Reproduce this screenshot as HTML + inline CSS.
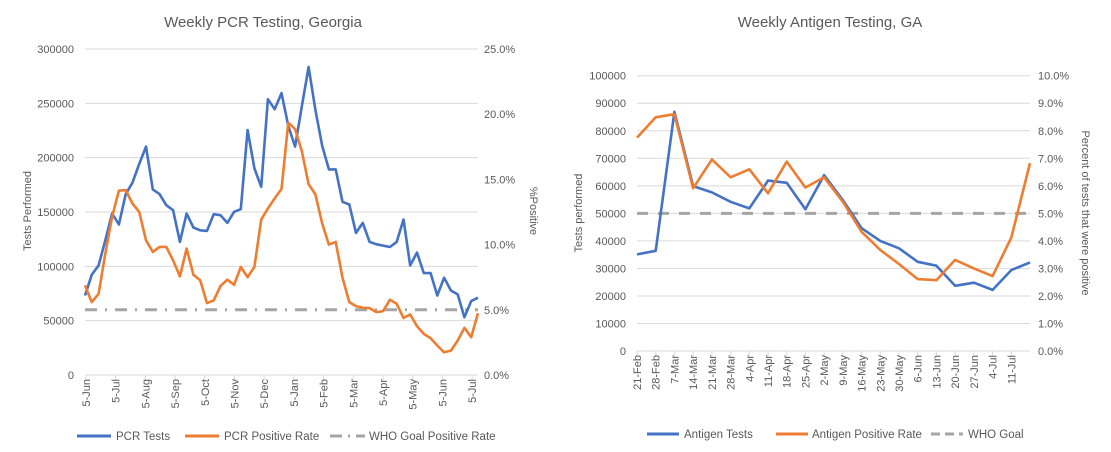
<!DOCTYPE html>
<html><head><meta charset="utf-8">
<style>
html,body{margin:0;padding:0;background:#fff;}
svg{display:block;font-family:"Liberation Sans",Arial,sans-serif;}
.tk{font-size:11px;fill:#595959;}
.ttl{font-size:15px;fill:#595959;}
.at{font-size:11px;fill:#595959;}
.lg{font-size:11.5px;fill:#595959;}
</style></head>
<body>
<svg id="chart" width="1111" height="452" viewBox="0 0 1111 452">
<rect width="1111" height="452" fill="#fff"/>
<text class="ttl" x="263" y="27" text-anchor="middle">Weekly PCR Testing, Georgia</text>
<text class="ttl" x="830" y="27" text-anchor="middle">Weekly Antigen Testing, GA</text>
<text class="at" transform="translate(31,211) rotate(-90)" text-anchor="middle">Tests Performed</text>
<text class="at" transform="translate(530,211) rotate(90)" text-anchor="middle">%Positive</text>
<text class="at" transform="translate(582,213) rotate(-90)" text-anchor="middle">Tests performed</text>
<text class="at" transform="translate(1082,213) rotate(90)" text-anchor="middle">Percent of tests that were positive</text>
<g id="g1"></g>
<g id="g2"></g>
<g>
<line x1="77" y1="436" x2="111" y2="436" stroke="#4472C4" stroke-width="3"/>
<text class="lg" x="116" y="440">PCR Tests</text>
<line x1="185" y1="436" x2="219" y2="436" stroke="#ED7D31" stroke-width="3"/>
<text class="lg" x="224" y="440">PCR Positive Rate</text>
<line x1="330" y1="436" x2="365" y2="436" stroke="#A5A5A5" stroke-width="3" stroke-dasharray="12,6,2,6"/>
<text class="lg" x="369" y="440">WHO Goal Positive Rate</text>
</g>
<g>
<line x1="647" y1="434" x2="679" y2="434" stroke="#4472C4" stroke-width="3"/>
<text class="lg" x="684" y="438">Antigen Tests</text>
<line x1="776" y1="434" x2="808" y2="434" stroke="#ED7D31" stroke-width="3"/>
<text class="lg" x="812" y="438">Antigen Positive Rate</text>
<line x1="931" y1="434" x2="963" y2="434" stroke="#A5A5A5" stroke-width="3" stroke-dasharray="9,5"/>
<text class="lg" x="968" y="438">WHO Goal</text>
</g>
</svg>
<script>
const pcrTests=[73200,92300,100900,124000,148600,138500,166500,176900,194200,210200,170800,166500,156300,151700,122500,148600,135700,133200,132600,148000,147100,140000,150200,152600,225500,190200,173200,253800,244600,259400,229200,210200,247100,283400,244000,210800,189200,189200,159400,156900,130800,140000,122500,120300,119100,117800,122500,143100,100900,112600,93800,93800,73200,89500,77800,74200,53200,68000,71100];
const pcrRate=[6.87,5.59,6.23,9.31,12.13,14.13,14.18,13.15,12.51,10.33,9.44,9.82,9.82,8.79,7.56,9.69,7.69,7.26,5.51,5.72,6.82,7.31,6.92,8.28,7.51,8.28,11.92,12.77,13.54,14.26,19.36,18.85,17.18,14.64,13.85,11.62,10.0,10.21,7.46,5.59,5.28,5.15,5.13,4.82,4.9,5.77,5.46,4.38,4.64,3.74,3.15,2.82,2.26,1.74,1.87,2.64,3.62,2.9,4.74];
const pcrMonths=["5-Jun","5-Jul","5-Aug","5-Sep","5-Oct","5-Nov","5-Dec","5-Jan","5-Feb","5-Mar","5-Apr","5-May","5-Jun","5-Jul"];
const pcrLeftTicks=[0,50000,100000,150000,200000,250000,300000];
const pcrRightTicks=["0.0%","5.0%","10.0%","15.0%","20.0%","25.0%"];
const whoGoal=5;

const agWeeks=["21-Feb","28-Feb","7-Mar","14-Mar","21-Mar","28-Mar","4-Apr","11-Apr","18-Apr","25-Apr","2-May","9-May","16-May","23-May","30-May","6-Jun","13-Jun","20-Jun","27-Jun","4-Jul","11-Jul",""];
const agTests=[35100,36400,86900,59900,57600,54200,51800,61900,61100,51500,63900,54800,44600,40000,37300,32400,31000,23700,24800,22200,29400,32200];
const agRate=[7.75,8.49,8.6,5.91,6.96,6.31,6.6,5.73,6.88,5.94,6.31,5.42,4.33,3.67,3.16,2.61,2.57,3.31,3.0,2.72,4.12,6.82];
const agLeftTicks=[0,10000,20000,30000,40000,50000,60000,70000,80000,90000,100000];
const agRightTicks=["0.0%","1.0%","2.0%","3.0%","4.0%","5.0%","6.0%","7.0%","8.0%","9.0%","10.0%"];

const NS="http://www.w3.org/2000/svg";
function mk(parent,tag,attrs,txt){const e=document.createElementNS(NS,tag);for(const k in attrs)e.setAttribute(k,attrs[k]);if(txt!==undefined)e.textContent=txt;parent.appendChild(e);return e;}
function path(pts){return pts.map((p,i)=>(i?'L':'M')+p[0].toFixed(1)+','+p[1].toFixed(1)).join(' ');}

// Chart 1
(function(){
const g=document.getElementById('g1');
const x0=85,x1=478,yT=49,yB=375;
const yL=v=>yB-(v/300000)*(yB-yT);
const yR=v=>yB-(v/25)*(yB-yT);
const xi=i=>x0+i*(x1-x0)/(pcrTests.length-1);
pcrLeftTicks.forEach(v=>{
  if(v>0){const gl=mk(g,'line',{x1:x0,x2:x1,y1:yL(v),y2:yL(v),stroke:'#D9D9D9','stroke-width':1});
  
  }
  const t=mk(g,'text',{class:'tk',x:74,y:yL(v)+4,'text-anchor':'end'},String(v));
  
  
});
pcrRightTicks.forEach((s,i)=>{
  const t=mk(g,'text',{class:'tk',x:484,y:yR(i*5)+4},s);
  
  
});
const ax=mk(g,'line',{x1:x0,x2:x1,y1:yB,y2:yB,stroke:'#D9D9D9','stroke-width':1});


const mstep=29.7;
pcrMonths.forEach((m,i)=>{
  const x=x0+1+i*mstep;
  mk(g,'line',{x1:x,x2:x,y1:yB,y2:yB+5,stroke:'#D9D9D9'});
  const t=mk(g,'text',{class:'tk','text-anchor':'end',transform:`translate(${x+4},${yB+4}) rotate(-90)`},m);
  
  
});
const w=mk(g,'line',{x1:x0,x2:x1,y1:yR(whoGoal),y2:yR(whoGoal),stroke:'#A5A5A5','stroke-width':3,'stroke-dasharray':'12,8,2,8'});


const pb=mk(g,'path',{d:path(pcrTests.map((v,i)=>[xi(i),yL(v)])),fill:'none',stroke:'#4472C4','stroke-width':2.6,'stroke-linejoin':'round'});


const po=mk(g,'path',{d:path(pcrRate.map((v,i)=>[xi(i),yR(v)])),fill:'none',stroke:'#ED7D31','stroke-width':2.6,'stroke-linejoin':'round'});


})();

// Chart 2
(function(){
const g=document.getElementById('g2');
const x0=637,x1=1030,yT=75.7,yB=351;
const yL=v=>yB-(v/100000)*(yB-yT);
const yR=v=>yB-(v/10)*(yB-yT);
const xi=i=>x0+i*(x1-x0)/(agTests.length-1);
agLeftTicks.forEach(v=>{
  if(v>0){const gl=mk(g,'line',{x1:x0,x2:x1,y1:yL(v),y2:yL(v),stroke:'#D9D9D9','stroke-width':1});
  
  }
  const t=mk(g,'text',{class:'tk',x:626,y:yL(v)+4,'text-anchor':'end'},String(v));
  
  
});
agRightTicks.forEach((s,i)=>{
  const t=mk(g,'text',{class:'tk',x:1038,y:yR(i)+4},s);
  
  
});
const ax=mk(g,'line',{x1:x0,x2:x1,y1:yB,y2:yB,stroke:'#D9D9D9','stroke-width':1});


agWeeks.forEach((m,i)=>{
  if(!m)return;
  const x=xi(i);
  mk(g,'line',{x1:x,x2:x,y1:yB,y2:yB+5,stroke:'#D9D9D9'});
  const t=mk(g,'text',{class:'tk','text-anchor':'end',transform:`translate(${x+4},${yB+4}) rotate(-90)`},m);
  
  
});
const w=mk(g,'line',{x1:x0,x2:x1,y1:yR(whoGoal),y2:yR(whoGoal),stroke:'#A5A5A5','stroke-width':3,'stroke-dasharray':'11,10'});


const pb=mk(g,'path',{d:path(agTests.map((v,i)=>[xi(i),yL(v)])),fill:'none',stroke:'#4472C4','stroke-width':2.6,'stroke-linejoin':'round'});


const po=mk(g,'path',{d:path(agRate.map((v,i)=>[xi(i),yR(v)])),fill:'none',stroke:'#ED7D31','stroke-width':2.6,'stroke-linejoin':'round'});


})();
</script>
</body></html>
